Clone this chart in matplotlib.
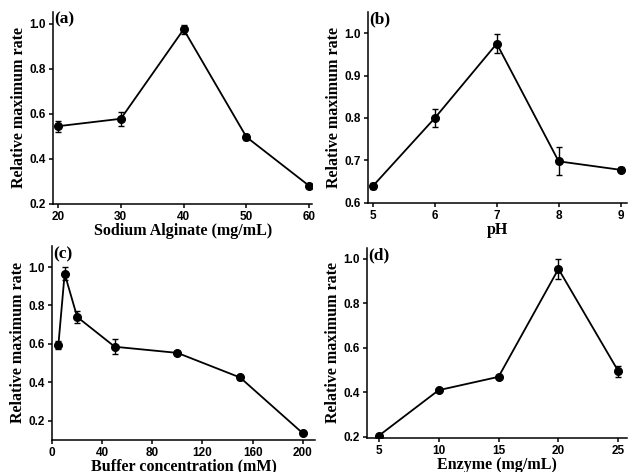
import numpy as np
from matplotlib import pyplot as plt

# (a) sodium alginate
alg_x = [20, 30, 40, 50, 60]
alg_y = [0.545, 0.578, 0.975, 0.497, 0.280]
alg_err = [0.025, 0.030, 0.020, 0.015, 0.006]

# (b) pH
ph_x = [5, 6, 7, 8, 9]
ph_y = [0.640, 0.800, 0.975, 0.698, 0.678]
ph_err = [0.008, 0.022, 0.023, 0.033, 0.006]

# (c) buffer concentration
buf_x = [5, 10, 20, 50, 100, 150, 200]
buf_y = [0.595, 0.965, 0.740, 0.585, 0.553, 0.425, 0.135]
buf_err = [0.020, 0.035, 0.030, 0.040, 0.010, 0.015, 0.006]

# (d) enzyme
enz_x = [5, 10, 15, 20, 25]
enz_y = [0.205, 0.410, 0.470, 0.955, 0.495]
enz_err = [0.006, 0.006, 0.006, 0.045, 0.025]

serif = 'Liberation Serif'
sans = 'Liberation Sans'

fig = plt.figure(figsize=(6.28, 4.72), dpi=100)

panels = [
    # rect, x, y, err, xlabel, tag, xlim, ylim, xticks, yticks
    ([0.0844, 0.568, 0.413, 0.407], alg_x, alg_y, alg_err, 'Sodium Alginate (mg/mL)', '(a)',
     (19.2, 60.5), (0.2, 1.053), [20, 30, 40, 50, 60], [0.2, 0.4, 0.6, 0.8, 1.0]),
    ([0.586, 0.570, 0.412, 0.405], ph_x, ph_y, ph_err, 'pH', '(b)',
     (4.92, 9.1), (0.6, 1.05), [5, 6, 7, 8, 9], [0.6, 0.7, 0.8, 0.9, 1.0]),
    ([0.083, 0.068, 0.419, 0.411], buf_x, buf_y, buf_err, 'Buffer concentration (mM)', '(c)',
     (0, 210), (0.1, 1.11), [0, 40, 80, 120, 160, 200], [0.2, 0.4, 0.6, 0.8, 1.0]),
    ([0.584, 0.072, 0.414, 0.403], enz_x, enz_y, enz_err, 'Enzyme (mg/mL)', '(d)',
     (4.0, 25.7), (0.195, 1.05), [5, 10, 15, 20, 25], [0.2, 0.4, 0.6, 0.8, 1.0]),
]

for rect, x, y, err, xlabel, tag, xlim, ylim, xticks, yticks in panels:
    ax = fig.add_axes(rect)
    ax.errorbar(x, y, yerr=err, color='black', marker='o', markersize=5.5,
                linewidth=1.3, elinewidth=1, capsize=2.5, capthick=1)
    ax.set_xlim(*xlim)
    ax.set_ylim(*ylim)
    ax.set_xticks(xticks)
    ax.set_yticks(yticks)
    ax.set_yticklabels(['%.1f' % v for v in yticks])
    for s in ['top', 'right']:
        ax.spines[s].set_visible(False)
    for s in ['left', 'bottom']:
        ax.spines[s].set_linewidth(1.1)
    ax.tick_params(direction='out', length=3, width=1.1, pad=2)
    for lab in ax.get_xticklabels() + ax.get_yticklabels():
        lab.set_fontfamily(sans)
        lab.set_fontweight('bold')
        lab.set_fontsize(8.5)
    ax.set_xlabel(xlabel, fontfamily=serif, fontweight='bold', fontsize=11.5, labelpad=0)
    ax.set_ylabel('Relative maximum rate', fontfamily=serif, fontweight='bold',
                  fontsize=11.5, labelpad=2)
    ax.text(0.005, 1.0, tag, transform=ax.transAxes, ha='left', va='top',
            fontfamily=serif, fontweight='bold', fontsize=12.5)

fig.savefig('out.png', dpi=100)
